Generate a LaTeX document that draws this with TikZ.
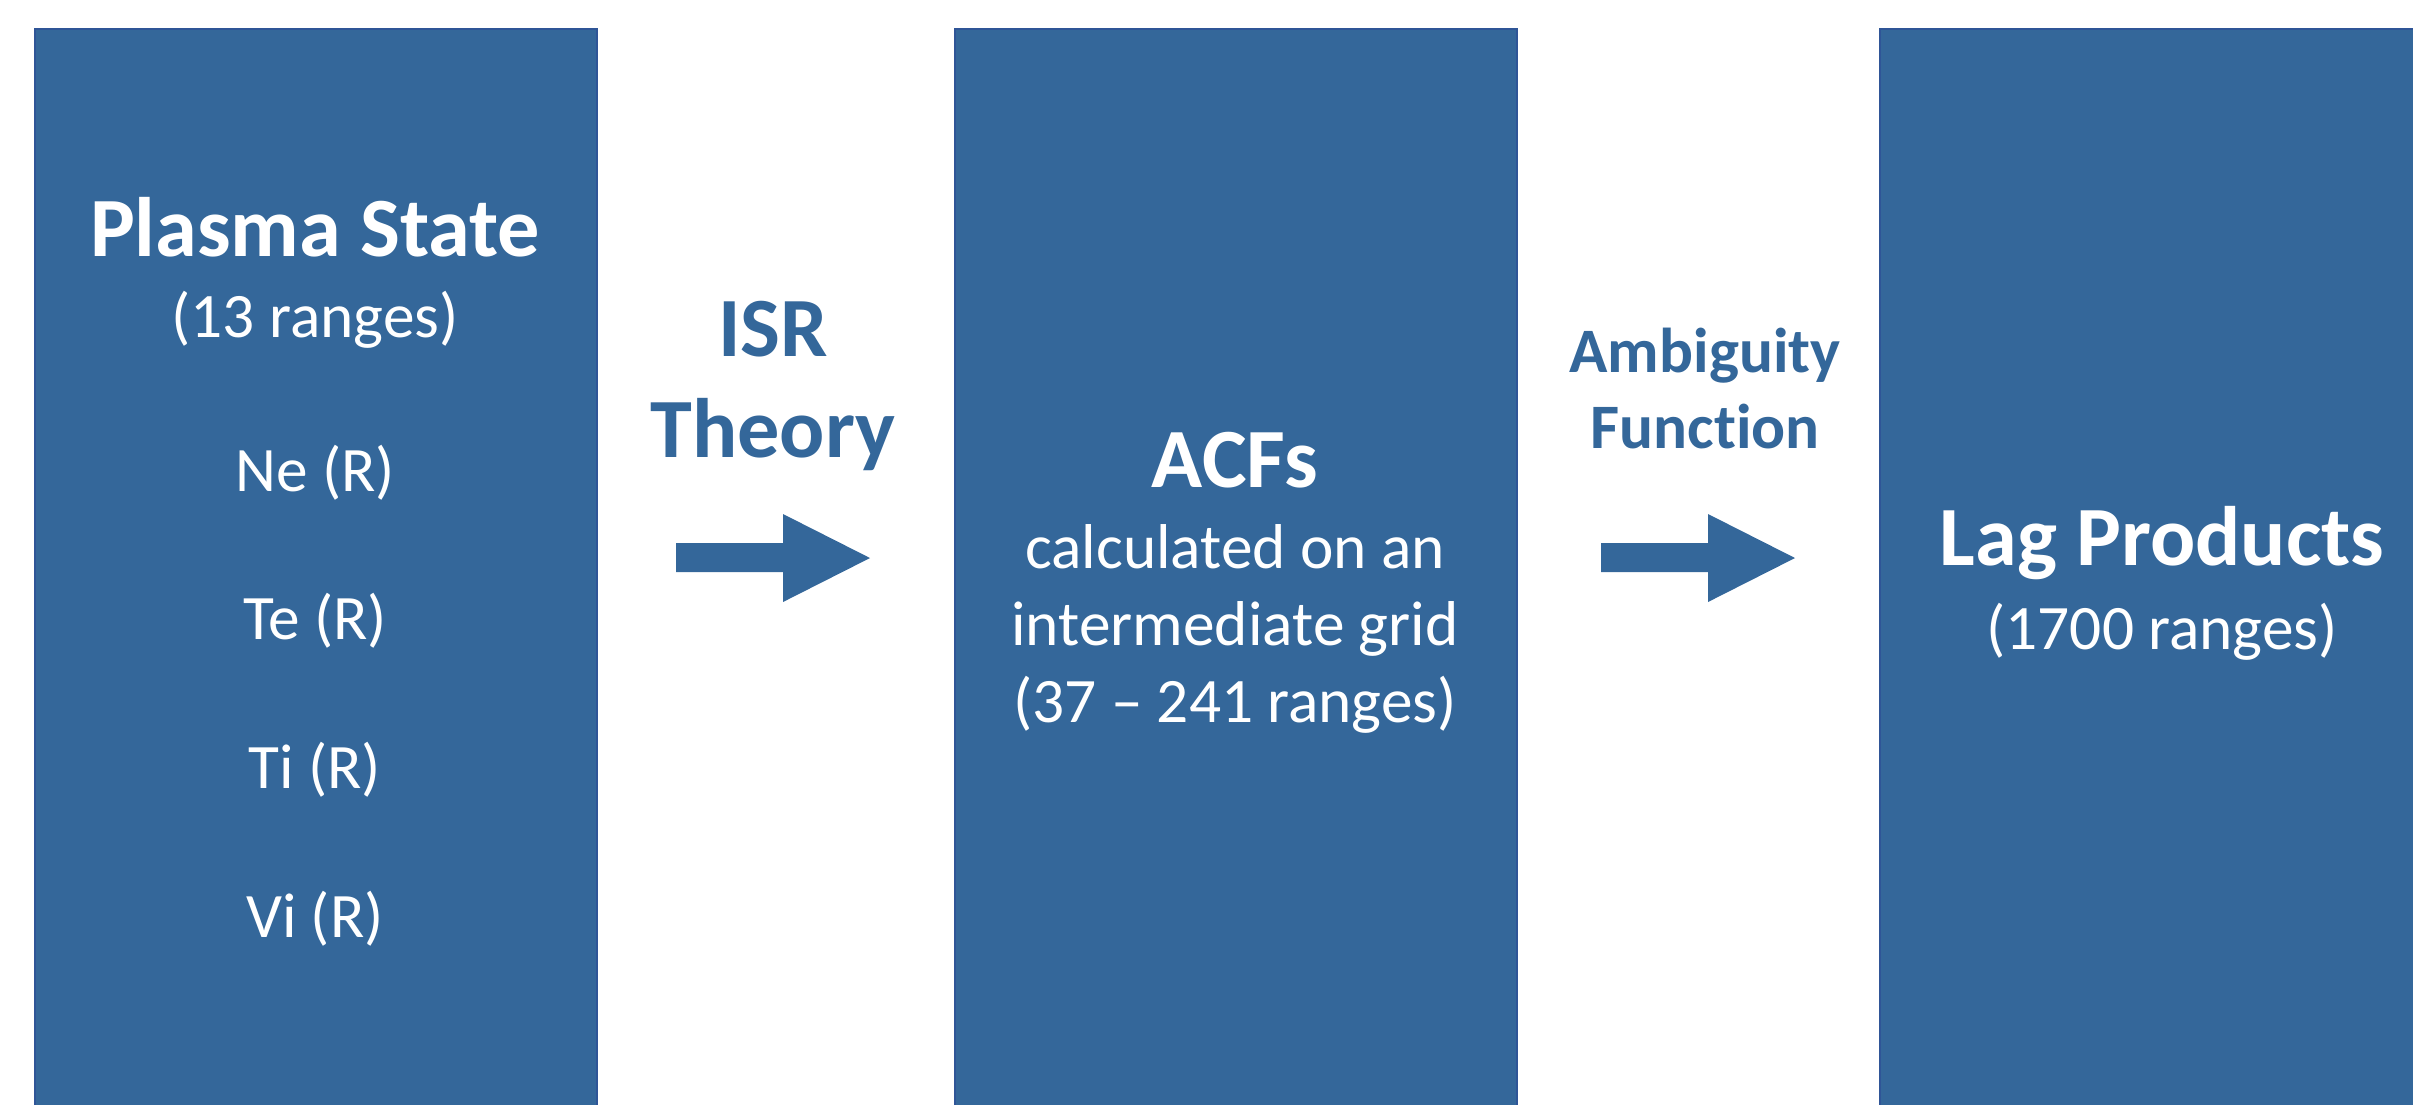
\documentclass[tikz,border=0pt]{standalone}
\usepackage{fontspec}
\setmainfont{Carlito}[Ligatures=NoCommon]
\definecolor{boxblue}{HTML}{34679A}
\definecolor{edgeblue}{HTML}{2F5597}
\tikzset{
  block/.style={fill=boxblue, draw=edgeblue, line width=0.6pt, anchor=north west,
    minimum width=168.6pt, minimum height=335pt, inner sep=0pt},
  titletxt/.style={anchor=base, inner sep=0pt, text=white, font=\fontsize{25.3}{30}\selectfont\bfseries},
  subtxt/.style={anchor=base, inner sep=0pt, text=white, font=\fontsize{19}{22.8}\selectfont},
  arrtitle/.style={anchor=base, inner sep=0pt, text=boxblue, font=\fontsize{25.3}{30}\selectfont\bfseries},
  arrsub/.style={anchor=base, inner sep=0pt, text=boxblue, font=\fontsize{19}{22.8}\selectfont\bfseries},
  blockarrow/.style={fill=boxblue}
}
\begin{document}
\begin{tikzpicture}[x=0.3pt,y=-0.3pt]
\useasboundingbox (0,0) rectangle (2413,1104);
\clip (0,0) rectangle (2413,1104);
% boxes
\node[block] (b1) at (34,28) {};
\node[block] (b2) at (954,28) {};
\node[block] (b3) at (1879,28) {};
% box 1 text
\node[titletxt] (t1) at (315,256) {Plasma State};
\node[subtxt] (s1) at (315,337) {(13 ranges)};
\node[subtxt] (ne) at (315,491) {Ne (R)};
\node[subtxt] (te) at (315,639) {Te (R)};
\node[subtxt] (ti) at (315,788) {Ti (R)};
\node[subtxt] (vi) at (315,937) {Vi (R)};
% box 2 text
\node[titletxt] (t2) at (1235,487) {ACFs};
\node[subtxt] (s2a) at (1235,568) {calculated on an};
\node[subtxt] (s2b) at (1235,645) {intermediate grid};
\node[subtxt] (s2c) at (1235,722) {(37 – 241 ranges)};
% box 3 text
\node[titletxt] (t3) at (2162,565) {Lag Products};
\node[subtxt] (s3) at (2162,649) {(1700 ranges)};
% arrow labels
\node[arrtitle] (isr) at (773,356) {ISR};
\node[arrtitle] (theory) at (773,457) {Theory};
\node[arrsub] (amb) at (1705,372) {Ambiguity};
\node[arrsub] (fun) at (1705,448) {Function};
% block arrows
\coordinate (a1) at (676,558);
\coordinate (a2) at (1601,558);
\fill[blockarrow] (a1) ++(0,-15) -- ++(107,0) -- ++(0,-29) -- ++(87,44) -- ++(-87,44) -- ++(0,-30) -- ++(-107,0) -- cycle;
\fill[blockarrow] (a2) ++(0,-15) -- ++(107,0) -- ++(0,-29) -- ++(87,44) -- ++(-87,44) -- ++(0,-30) -- ++(-107,0) -- cycle;
\end{tikzpicture}
\end{document}
